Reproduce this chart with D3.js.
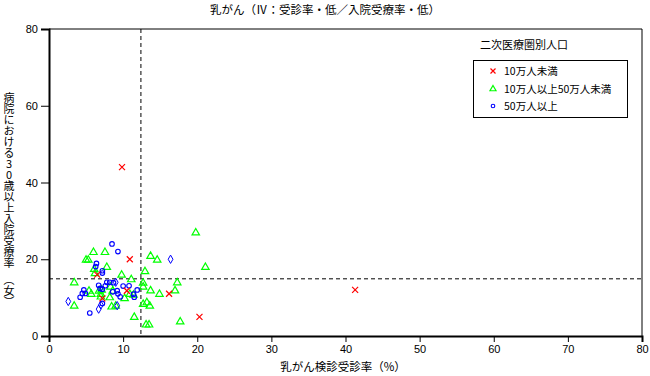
<!DOCTYPE html>
<html>
<head>
<meta charset="utf-8">
<title>乳がん scatter</title>
<style>
    body { margin: 0; background: #ffffff; }
    svg text { font-family: "Noto Sans CJK JP", sans-serif; fill: #000; }
    .tick-label { font-family: "Liberation Sans Narrow", "Liberation Sans", sans-serif; font-size: 11px; }
</style>
<script src="https://cdn.jsdelivr.net/npm/d3@7/dist/d3.min.js"></script>
</head>
<body>
<div id="chart"></div>
<script>
    // group: 10万人未満
    var smallPts = [[9.85,44],[10.9,20],[41.3,12],[20.3,5],[16.2,11],[10.5,11.8],[7.2,9.8],[6.5,16]];
    // group: 10万人以上50万人未満
    var midPts = [[19.8,26.9],[21.1,17.9],[7.55,21.8],[6.0,21.8],[13.7,20.8],[14.6,19.8],[5.0,19.8],[5.3,19.8],
        [7.8,17.9],[6.1,17.4],[6.2,16.3],[12.95,16.8],[9.8,15.9],[11.1,14.7],[3.4,13.9],[12.7,13.8],[12.7,12.8],
        [17.3,13.9],[17.0,11.8],[13.7,11.8],[14.9,10.9],[8.3,12.8],[8.6,11.7],[5.4,11.7],[5.7,10.9],[6.75,11.7],
        [7.0,10.9],[7.0,10.2],[8.2,10.0],[10.2,9.8],[11.4,10.7],[10.9,10.9],[12.7,8.3],[13.2,8.7],[13.6,7.8],
        [8.45,7.6],[9.0,7.8],[3.4,7.8],[11.5,4.9],[13.1,2.9],[13.5,2.9],[17.7,3.7],[7.1,12.0]];
    // group: 50万人以上 (circles)
    var largePts = [[8.5,24.0],[9.3,22.0],[6.4,18.9],[6.3,18.1],[7.2,17.0],[7.2,16.4],[6.7,13.2],[7.8,14.0],
        [8.2,14.0],[7.2,12.2],[7.6,13.1],[8.6,11.5],[9.2,11.8],[9.3,11.0],[10.0,13.0],[11.9,12.0],[11.5,10.1],
        [4.7,12.0],[4.5,11.1],[4.9,11.1],[4.2,10.1],[5.5,6.0],[7.2,8.5],[9.6,10.2],[10.8,13.1],[11.4,10.9],
        [8.7,13.9],[6.9,12.4]];
    // 50万人以上 drawn as diamonds
    var largeDiamonds = [[2.6,9.0],[9.0,14.0],[7.0,8.1],[6.7,7.0],[9.2,7.9],[16.4,20.0]];

    var xTicks = [0,10,20,30,40,50,60,70,80];
    var yTicks = [0,20,40,60,80];
    var refX = 12.4, refY = 14.9;
    var legendLabels = ["10万人未満", "10万人以上50万人未満", "50万人以上"];

    var width = 650, height = 376;
    var svg = d3.select("#chart").append("svg")
        .attr("width", width).attr("height", height);

    var x = d3.scaleLinear().domain([0, 80]).range([49, 642]);
    var y = d3.scaleLinear().domain([0, 80]).range([336, 29]);

    // frame
    svg.append("line").attr("x1", x(0)).attr("x2", x(80)).attr("y1", y(80)).attr("y2", y(80))
        .attr("stroke", "#000").attr("stroke-width", 1);
    svg.append("line").attr("x1", x(80)).attr("x2", x(80)).attr("y1", y(80)).attr("y2", y(0))
        .attr("stroke", "#000").attr("stroke-width", 1);

    // axes
    var xAxis = svg.append("g").attr("transform", "translate(0," + y(0) + ")")
        .call(d3.axisBottom(x).tickValues(xTicks).tickSize(6).tickPadding(3));
    var yAxis = svg.append("g").attr("transform", "translate(" + x(0) + ",0)")
        .call(d3.axisLeft(y).tickValues(yTicks).tickSize(8).tickPadding(3));
    [xAxis, yAxis].forEach(function(a) {
        a.select(".domain").attr("stroke-width", 2);
        a.selectAll("text").attr("class", "tick-label").attr("fill", "#000");
    });

    // reference lines
    svg.append("line").attr("x1", x(refX)).attr("x2", x(refX)).attr("y1", y(80)).attr("y2", y(0))
        .attr("stroke", "#000").attr("stroke-dasharray", "4,3");
    svg.append("line").attr("x1", x(0)).attr("x2", x(80)).attr("y1", y(refY)).attr("y2", y(refY))
        .attr("stroke", "#000").attr("stroke-dasharray", "4,3");

    var triangle = d3.symbol().type(d3.symbolTriangle).size(24);
    var diamond = d3.symbol().type(d3.symbolDiamond).size(20);

    svg.append("g").selectAll("path").data(midPts).enter().append("path")
        .attr("d", triangle)
        .attr("transform", function(d) { return "translate(" + x(d[0]) + "," + y(d[1]) + ")"; })
        .attr("fill", "none").attr("stroke", "#00ff00").attr("stroke-width", 1.2);

    svg.append("g").selectAll("circle").data(largePts).enter().append("circle")
        .attr("cx", function(d) { return x(d[0]); })
        .attr("cy", function(d) { return y(d[1]); })
        .attr("r", 2.3)
        .attr("fill", "none").attr("stroke", "#0000ff").attr("stroke-width", 1.1);

    svg.append("g").selectAll("path").data(largeDiamonds).enter().append("path")
        .attr("d", diamond)
        .attr("transform", function(d) { return "translate(" + x(d[0]) + "," + y(d[1]) + ")"; })
        .attr("fill", "none").attr("stroke", "#0000ff").attr("stroke-width", 1);

    var cross = function(g, cx, cy, s) {
        g.append("path")
            .attr("d", "M" + (cx - s) + "," + (cy - s) + "L" + (cx + s) + "," + (cy + s) +
                "M" + (cx - s) + "," + (cy + s) + "L" + (cx + s) + "," + (cy - s))
            .attr("stroke", "#ff0000").attr("stroke-width", 1.2).attr("fill", "none");
    };
    var crossG = svg.append("g");
    smallPts.forEach(function(d) { cross(crossG, x(d[0]), y(d[1]), 3); });

    // title
    svg.append("text").attr("x", 325).attr("y", 14).attr("text-anchor", "middle")
        .style("font-size", "11.5px").text("乳がん（Ⅳ：受診率・低／入院受療率・低）");

    // x label
    svg.append("text").attr("x", 343).attr("y", 371).attr("text-anchor", "middle")
        .style("font-size", "11.5px").text("乳がん検診受診率（%）");

    // y label (vertical writing, upright characters)
    svg.append("text").attr("x", 9).attr("y", 200).attr("text-anchor", "middle")
        .style("writing-mode", "vertical-rl").style("text-orientation", "upright")
        .style("font-size", "11px")
        .text("病院における30歳以上入院受療率　（女）");

    // legend
    svg.append("text").attr("x", 480).attr("y", 49).style("font-size", "11px").text("二次医療圏別人口");
    svg.append("rect").attr("x", 473.5).attr("y", 60.5).attr("width", 154).attr("height", 57)
        .attr("fill", "none").attr("stroke", "#000");
    var ly = [71, 89, 106];
    cross(svg, 493, ly[0], 2.5);
    svg.append("path").attr("d", d3.symbol().type(d3.symbolTriangle).size(16))
        .attr("transform", "translate(493," + ly[1] + ")")
        .attr("fill", "none").attr("stroke", "#00ff00").attr("stroke-width", 1.2);
    svg.append("circle").attr("cx", 493).attr("cy", ly[2]).attr("r", 1.8)
        .attr("fill", "none").attr("stroke", "#0000ff").attr("stroke-width", 1.1);
    legendLabels.forEach(function(t, i) {
        svg.append("text").attr("x", 504).attr("y", ly[i] + 4).style("font-size", "10.5px").text(t);
    });
</script>
</body>
</html>
